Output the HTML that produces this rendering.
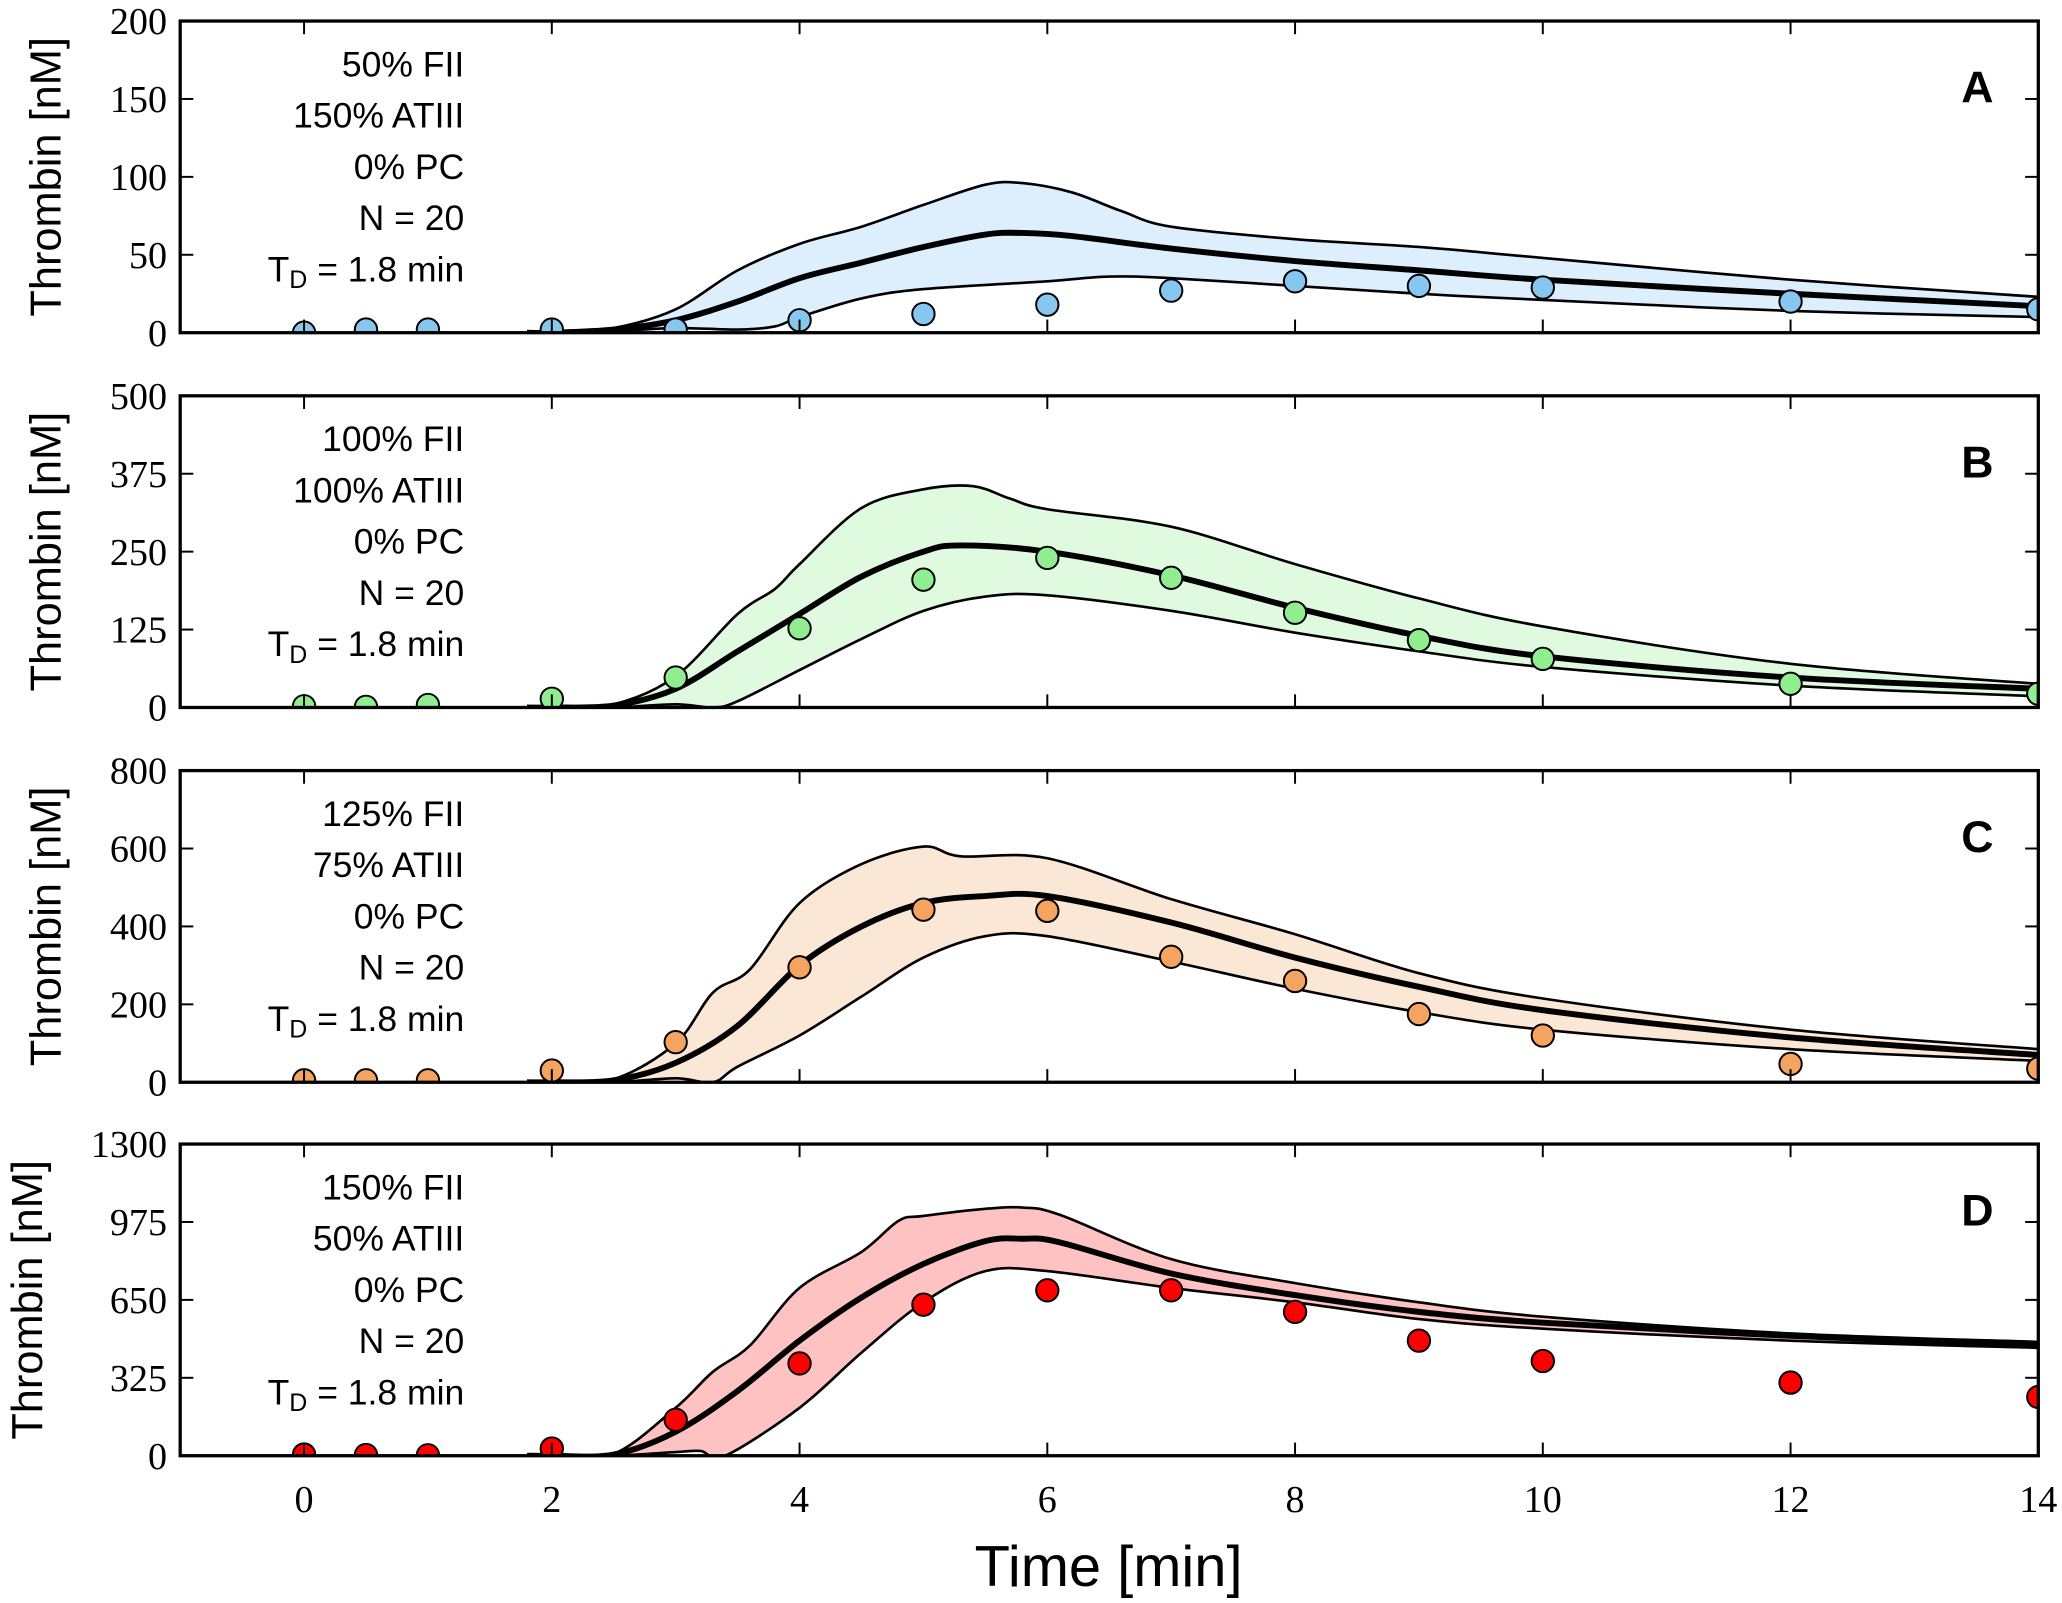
<!DOCTYPE html>
<html><head><meta charset="utf-8"><style>
html,body{margin:0;padding:0;background:#fff;}
svg{display:block;}
text{font-family:"Liberation Sans",sans-serif;}
.tick{font-family:"Liberation Serif",serif;font-size:29px;}
</style></head><body>
<svg id="chart" width="2062" height="1603" viewBox="0 0 1568 1219" xmlns="http://www.w3.org/2000/svg"></svg>
<script>
// ---- data ----
const panelLetters = ["A","B","C","D"];
const yMaxes = [200,500,800,1300];
const yTickLabels = [[0,50,100,150,200],[0,125,250,375,500],[0,200,400,600,800],[0,325,650,975,1300]];
const xTickLabels = [0,2,4,6,8,10,12,14];
const annotations = [
 ["50% FII","150% ATIII","0% PC","N = 20"],
 ["100% FII","100% ATIII","0% PC","N = 20"],
 ["125% FII","75% ATIII","0% PC","N = 20"],
 ["150% FII","50% ATIII","0% PC","N = 20"]];
const fillColors = ["#ddeffc","#e0fae0","#fbe7d5","#ffc2c2"];
const markerColors = ["#87c7ef","#90ee90","#f4a460","#ff0000"];
const obsT = [0,0.5,1,2,3,4,5,6,7,8,9,10,12,14];
const obsA = [0,2,2,2,2,8,12,18,27,33,30,29,20,15];
const obsB = [2,1,4,14,48,127,205,240,208,152,108,78,38,22];
const obsC = [5,5,5,30,103,295,443,440,322,260,175,120,47,35];
const obsD = [5,3,2,30,150,385,630,690,690,600,480,395,305,245];
const meanA = [[1.8,0],[2,0],[2.5,2],[3,8],[3.5,20],[4,35],[4.5,45],[5,55],[5.5,63],[5.8,64],[6.2,62],[7,54],[8,46],[9,40],[10,34],[12,25],[14,17]];
const upA = [[1.8,0],[2,0],[2.5,3],[3,15],[3.5,40],[4,57],[4.5,68],[5,82],[5.5,95],[5.8,96],[6.2,90],[6.6,78],[7,68],[8,60],[9,55],[10,48],[12,34],[14,23]];
const loA = [[1.8,0],[2,0],[2.5,1],[3,3],[3.5,2],[3.8,4],[4,10],[4.5,22],[5,28],[6,33],[6.5,36],[7,35],[8,30],[9,25],[10,21],[12,14],[14,10]];
const meanB = [[1.8,0],[2,0],[2.5,3],[3,30],[3.5,90],[4,150],[4.5,210],[5,250],[5.3,260],[6,250],[7,212],[8,160],[9,115],[10,82],[12,48],[14,30]];
const upB = [[1.8,0],[2,0],[2.5,5],[3,50],[3.5,150],[3.8,190],[4,230],[4.5,320],[5,350],[5.4,355],[5.7,335],[6,318],[7,290],[8,230],[9,175],[10,130],[12,70],[14,38]];
const loB = [[1.8,0],[2,0],[2.5,0],[3,5],[3.3,0],[3.5,10],[4,60],[4.5,110],[5,155],[5.5,178],[6,180],[7,155],[8,120],[9,90],[10,65],[12,35],[14,18]];
const meanC = [[1.8,0],[2,0],[2.5,5],[3,50],[3.5,145],[4,300],[4.5,400],[5,460],[5.5,478],[6,478],[7,410],[8,320],[9,245],[10,185],[12,115],[14,70]];
const upC = [[1.8,0],[2,0],[2.5,8],[3,100],[3.3,230],[3.6,290],[4,460],[4.5,560],[5,605],[5.3,580],[6,575],[7,470],[8,380],[9,280],[10,215],[12,135],[14,85]];
const loC = [[1.8,0],[2,0],[2.5,0],[3,10],[3.3,0],[3.5,40],[4,120],[4.5,220],[5,320],[5.5,375],[6,375],[7,310],[8,240],[9,180],[10,135],[12,85],[14,55]];
const meanD = [[1.8,0],[2,0],[2.5,5],[3,100],[3.5,270],[4,480],[4.5,660],[5,800],[5.5,895],[5.8,905],[6.1,890],[7,760],[8,670],[9,600],[10,555],[12,500],[14,460]];
const upD = [[1.8,0],[2,0],[2.5,8],[3,200],[3.3,350],[3.6,460],[4,700],[4.5,850],[4.8,980],[5,1000],[5.5,1030],[5.8,1035],[6.1,1005],[7,820],[8,720],[9,640],[10,580],[12,510],[14,475]];
const loD = [[1.8,0],[2,0],[2.5,0],[3,15],[3.2,20],[3.4,0],[4,200],[4.5,430],[5,640],[5.5,770],[6,770],[7,700],[8,640],[9,570],[10,530],[12,480],[14,450]];
const obsSeries=[obsA,obsB,obsC,obsD], meanSeries=[meanA,meanB,meanC,meanD], upSeries=[upA,upB,upC,upD], loSeries=[loA,loB,loC,loD];

// ---- layout ----
const NS="http://www.w3.org/2000/svg";
const svg=document.getElementById('chart');
const L=137,R=1550, tops=[16,301,586,870], H=237;
const xs=t=>L+(t+1)/15*(R-L);
function mk(tag,attrs,parent){const e=document.createElementNS(NS,tag);for(const k in attrs)e.setAttribute(k,attrs[k]);(parent||svg).appendChild(e);return e;}
function smooth(pts){let d=`M${pts[0][0]},${pts[0][1]}`;for(let i=0;i<pts.length-1;i++){const p0=pts[Math.max(0,i-1)],p1=pts[i],p2=pts[i+1],p3=pts[Math.min(pts.length-1,i+2)];const c1=[p1[0]+(p2[0]-p0[0])/6,p1[1]+(p2[1]-p0[1])/6],c2=[p2[0]-(p3[0]-p1[0])/6,p2[1]-(p3[1]-p1[1])/6];d+=`C${c1[0]},${c1[1]} ${c2[0]},${c2[1]} ${p2[0]},${p2[1]}`;}return d;}

for(let p=0;p<4;p++){
  const T=tops[p],B=T+H,ym=yMaxes[p];
  const ys=v=>B-v/ym*H;
  const g=mk('g',{});
  
  
  const cp=mk('clipPath',{id:'clip'+p},g);mk('rect',{x:L,y:T,width:R-L,height:H},cp);
  const pg=mk('g',{'clip-path':`url(#clip${p})`},g);
  const up=upSeries[p].map(q=>[xs(q[0]),ys(q[1])]), lo=loSeries[p].map(q=>[xs(q[0]),ys(q[1])]), mn=meanSeries[p].map(q=>[xs(q[0]),ys(q[1])]);
  const loRev=lo.slice().reverse();
  const band=mk('path',{d:smooth(up)+smooth(loRev).replace('M','L')+'Z',fill:fillColors[p],stroke:'none'},pg);
  
  
  const u=mk('path',{d:smooth(up),fill:'none',stroke:'#000','stroke-width':2},pg);
  
  
  const l=mk('path',{d:smooth(lo),fill:'none',stroke:'#000','stroke-width':2},pg);
  
  
  const m=mk('path',{d:smooth(mn),fill:'none',stroke:'#000','stroke-width':4.5},pg);
  
  
  obsSeries[p].forEach((v,i)=>{const c=mk('circle',{cx:xs(obsT[i]),cy:ys(v),r:8.5,fill:markerColors[p],stroke:'#000','stroke-width':1.5},pg);
    
    });
  // frame
  const fr=mk('rect',{x:L,y:T,width:R-L,height:H,fill:'none',stroke:'#000','stroke-width':2.5},g);
  
  
  xTickLabels.forEach(t=>{const x=xs(t);mk('line',{x1:x,x2:x,y1:B,y2:B-10,stroke:'#000','stroke-width':1.5},g);mk('line',{x1:x,x2:x,y1:T,y2:T+10,stroke:'#000','stroke-width':1.5},g);
    if(p===3){const tx=mk('text',{x:x,y:B+43,'text-anchor':'middle',class:'tick'},g);tx.textContent=t;
      
      }});
  yTickLabels[p].forEach(v=>{const y=ys(v);mk('line',{x1:L,x2:L+10,y1:y,y2:y,stroke:'#000','stroke-width':1.5},g);mk('line',{x1:R,x2:R-10,y1:y,y2:y,stroke:'#000','stroke-width':1.5},g);
    const tx=mk('text',{x:L-10,y:y+10,'text-anchor':'end',class:'tick'},g);tx.textContent=v;
    
    });
  const yl=mk('text',{transform:`translate(${p===3?32:46},${T+H/2}) rotate(-90)`,'text-anchor':'middle','font-size':33},g);
  yl.textContent='Thrombin [nM]';
  
  
  annotations[p].forEach((s,i)=>{const tx=mk('text',{x:353,y:T+42+i*39,'text-anchor':'end','font-size':27},g);tx.textContent=s;
    
    });
  const td=mk('text',{x:353,y:T+198,'text-anchor':'end','font-size':27},g);
  td.innerHTML='T<tspan font-size="19" dy="5">D</tspan><tspan dy="-5"> = 1.8 min</tspan>';
  
  
  const lt=mk('text',{x:1516,y:T+62,'text-anchor':'end','font-size':34,'font-weight':'bold'},g);
  lt.textContent=panelLetters[p];
  
  
}
const xt=mk('text',{x:843,y:1206,'text-anchor':'middle','font-size':44});
xt.textContent='Time [min]';


</script>
</body></html>
